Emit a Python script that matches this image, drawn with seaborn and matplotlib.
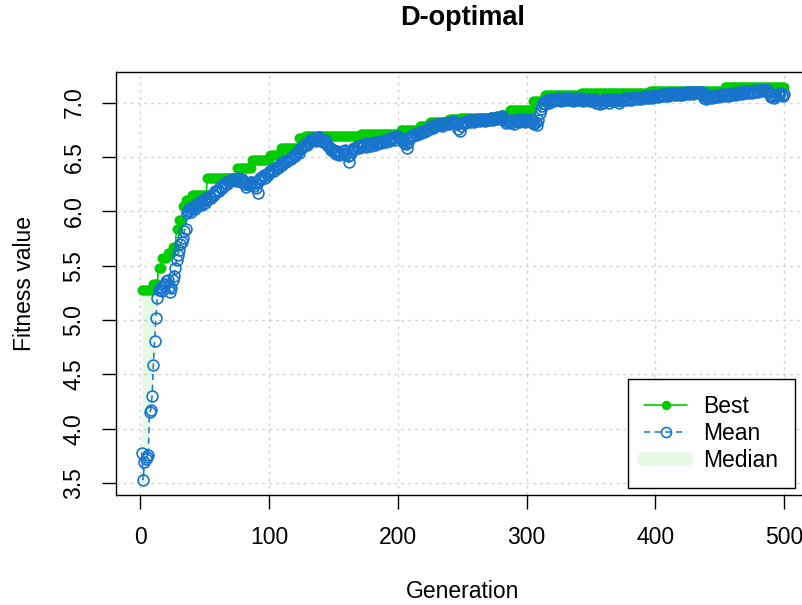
import numpy as np
import matplotlib
matplotlib.use("Agg")
import matplotlib.pyplot as plt
from matplotlib.lines import Line2D
import seaborn as sns

# GA run summary: 500 generations
generation = np.arange(1, 501)

# best fitness is a step curve: first generation of each level, and the level
best_start = [1, 10, 14, 17, 21, 25, 28, 30, 33, 35, 40, 52, 75, 87, 101, 109,
              123, 128, 171, 202, 217, 225, 240, 248, 272, 280, 287, 305, 314,
              342, 396, 454]
best_value = [5.28, 5.33, 5.48, 5.57, 5.62, 5.67, 5.84, 5.92, 6.05, 6.10, 6.15,
              6.31, 6.40, 6.47, 6.52, 6.58, 6.67, 6.69, 6.71, 6.75, 6.78, 6.82,
              6.85, 6.86, 6.87, 6.89, 6.93, 7.01, 7.07, 7.09, 7.11, 7.14]

mean_fitness = [
    3.78, 3.53, 3.69, 3.72, 3.74, 3.76, 4.15, 4.17, 4.30, 4.59,
    4.81, 5.02, 5.20, 5.28, 5.28, 5.30, 5.27, 5.31, 5.33, 5.36,
    5.37, 5.30, 5.26, 5.29, 5.37, 5.40, 5.48, 5.55, 5.60, 5.64,
    5.70, 5.72, 5.75, 5.82, 5.84, 5.98, 6.00, 6.02, 5.99, 6.03,
    6.04, 6.02, 6.06, 6.05, 6.08, 6.07, 6.09, 6.06, 6.10, 6.08,
    6.12, 6.10, 6.14, 6.13, 6.12, 6.16, 6.15, 6.19, 6.18, 6.20,
    6.19, 6.22, 6.21, 6.24, 6.23, 6.26, 6.25, 6.28, 6.27, 6.29,
    6.30, 6.29, 6.30, 6.28, 6.30, 6.31, 6.29, 6.27, 6.30, 6.28,
    6.25, 6.22, 6.26, 6.24, 6.27, 6.25, 6.27, 6.23, 6.26, 6.21,
    6.17, 6.28, 6.31, 6.30, 6.32, 6.33, 6.31, 6.34, 6.33, 6.36,
    6.37, 6.38, 6.39, 6.37, 6.40, 6.41, 6.40, 6.42, 6.44, 6.43,
    6.45, 6.46, 6.45, 6.47, 6.48, 6.49, 6.48, 6.50, 6.52, 6.51,
    6.53, 6.55, 6.54, 6.57, 6.58, 6.59, 6.60, 6.62, 6.61, 6.63,
    6.64, 6.66, 6.65, 6.67, 6.66, 6.65, 6.67, 6.66, 6.68, 6.66,
    6.65, 6.64, 6.66, 6.63, 6.62, 6.60, 6.58, 6.56, 6.57, 6.55,
    6.54, 6.53, 6.55, 6.52, 6.54, 6.53, 6.55, 6.54, 6.56, 6.53,
    6.51, 6.45, 6.52, 6.55, 6.57, 6.58, 6.57, 6.59, 6.60, 6.58,
    6.59, 6.61, 6.60, 6.62, 6.59, 6.61, 6.63, 6.62, 6.60, 6.62,
    6.63, 6.61, 6.64, 6.62, 6.63, 6.65, 6.63, 6.64, 6.66, 6.65,
    6.64, 6.66, 6.65, 6.67, 6.66, 6.67, 6.68, 6.66, 6.69, 6.68,
    6.68, 6.67, 6.66, 6.65, 6.63, 6.62, 6.58, 6.64, 6.67, 6.69,
    6.70, 6.69, 6.71, 6.70, 6.72, 6.71, 6.73, 6.72, 6.74, 6.73,
    6.75, 6.74, 6.76, 6.77, 6.76, 6.78, 6.77, 6.79, 6.78, 6.80,
    6.79, 6.80, 6.79, 6.78, 6.80, 6.81, 6.80, 6.81, 6.81, 6.80,
    6.82, 6.81, 6.83, 6.82, 6.81, 6.80, 6.76, 6.74, 6.78, 6.81,
    6.82, 6.81, 6.83, 6.82, 6.84, 6.82, 6.84, 6.83, 6.82, 6.84,
    6.83, 6.84, 6.85, 6.83, 6.84, 6.85, 6.84, 6.83, 6.85, 6.84,
    6.84, 6.86, 6.85, 6.84, 6.86, 6.85, 6.87, 6.86, 6.85, 6.87,
    6.88, 6.86, 6.83, 6.81, 6.83, 6.82, 6.84, 6.81, 6.83, 6.80,
    6.84, 6.83, 6.85, 6.82, 6.84, 6.83, 6.85, 6.84, 6.82, 6.84,
    6.83, 6.85, 6.82, 6.84, 6.81, 6.80, 6.82, 6.79, 6.84, 6.90,
    6.94, 6.97, 7.00, 6.99, 7.01, 7.02, 7.00, 7.03, 7.01, 7.02,
    7.01, 7.03, 7.02, 7.04, 7.02, 7.03, 7.01, 7.03, 7.02, 7.04,
    7.02, 7.03, 7.04, 7.02, 7.03, 7.01, 7.03, 7.04, 7.02, 7.03,
    7.02, 7.04, 7.03, 7.01, 7.03, 7.02, 7.03, 7.02, 7.01, 7.03,
    7.02, 7.01, 7.03, 7.00, 7.02, 7.01, 6.99, 7.01, 7.00, 7.02,
    7.01, 7.03, 7.02, 7.00, 7.02, 7.01, 7.03, 7.02, 7.01, 7.03,
    7.02, 7.00, 7.01, 7.03, 7.02, 7.04, 7.03, 7.02, 7.04, 7.03,
    7.02, 7.04, 7.03, 7.05, 7.04, 7.03, 7.05, 7.04, 7.03, 7.05,
    7.04, 7.06, 7.05, 7.04, 7.06, 7.05, 7.04, 7.06, 7.05, 7.07,
    7.06, 7.05, 7.07, 7.06, 7.08, 7.07, 7.06, 7.08, 7.07, 7.06,
    7.08, 7.07, 7.09, 7.08, 7.07, 7.09, 7.08, 7.07, 7.09, 7.08,
    7.07, 7.09, 7.08, 7.10, 7.09, 7.08, 7.10, 7.09, 7.08, 7.10,
    7.09, 7.10, 7.10, 7.09, 7.10, 7.10, 7.07, 7.04, 7.03, 7.05,
    7.04, 7.06, 7.05, 7.04, 7.06, 7.05, 7.07, 7.06, 7.05, 7.07,
    7.06, 7.08, 7.07, 7.06, 7.08, 7.07, 7.06, 7.08, 7.07, 7.09,
    7.08, 7.07, 7.09, 7.08, 7.10, 7.09, 7.08, 7.10, 7.09, 7.11,
    7.10, 7.09, 7.11, 7.10, 7.09, 7.11, 7.10, 7.12, 7.11, 7.10,
    7.12, 7.11, 7.12, 7.12, 7.11, 7.12, 7.12, 7.10, 7.07, 7.05,
    7.06, 7.04, 7.07, 7.06, 7.08, 7.07, 7.09, 7.07, 7.06, 7.08,
]

# median only separates from best in the first generations
median_head = [
    3.45, 3.42, 3.50, 3.55, 3.60, 3.65, 3.95, 4.15, 4.40, 4.70,
    4.95, 5.15, 5.30, 5.36, 5.40, 5.44, 5.48, 5.52, 5.55, 5.56,
    5.59, 5.60, 5.61, 5.61, 5.63, 5.65, 5.66, 5.76, 5.80, 5.85,
    5.88, 5.90, 5.98, 6.02, 6.05, 6.07, 6.08, 6.09, 6.10, 6.12,
]

x_ticks = [0, 100, 200, 300, 400, 500]
y_ticks = [3.5, 4.0, 4.5, 5.0, 5.5, 6.0, 6.5, 7.0]

best_len = np.diff(best_start + [len(generation) + 1])
best_fitness = np.repeat(best_value, best_len)
median_fitness = np.concatenate([median_head, best_fitness[len(median_head):]])

green = "#00CD00"
blue = "#1874CD"

sns.set_style("white")
plt.rcParams['font.family'] = ['Liberation Sans', 'DejaVu Sans']
plt.rcParams['text.color'] = 'black'

fig = plt.figure(figsize=(8.03, 6.05), dpi=100)
ax = fig.add_axes([0.1445, 0.1818, 0.864, 0.699])

ax.set_xticks(x_ticks)
ax.set_yticks(y_ticks)
ax.set_yticklabels([f"{v:.1f}" for v in y_ticks])
ax.grid(True, color='#D3D3D3', linestyle=(0, (2, 3)), linewidth=1)
ax.set_axisbelow(True)

sns.lineplot(x=generation, y=best_fitness, color=green, marker='o',
             markersize=7.2, markeredgewidth=0, linewidth=1.2,
             ax=ax, legend=False, errorbar=None)
sns.lineplot(x=generation, y=mean_fitness, color=blue, marker='o',
             markersize=7.8, markerfacecolor='none', markeredgecolor=blue,
             markeredgewidth=1.2, linestyle=(0, (4, 3)), linewidth=1.1,
             ax=ax, legend=False, errorbar=None)
ax.fill_between(generation, median_fitness, best_fitness, color=green,
                alpha=0.1, linewidth=0)

ax.set_xlim(-19, 520)
ax.set_ylim(3.39, 7.28)

for s in ax.spines.values():
    s.set_color('black')
    s.set_linewidth(1)
ax.tick_params(bottom=True, left=True, direction='out', length=10, width=1,
               color='black', labelsize=16.5, labelcolor='black', pad=12)
plt.setp(ax.get_yticklabels(), rotation=90, va='center')

ax.set_xlabel("Generation", fontsize=16.5, va='center', color='black')
ax.set_ylabel("Fitness value", fontsize=16.5, va='center', color='black')
ax.xaxis.set_label_coords(0.5, -0.229)
ax.yaxis.set_label_coords(-0.1326, 0.5)

fig.text(0.5766, 0.970, "D-optimal", fontsize=19.5, fontweight='bold',
         ha='center', va='center')

handles = [
    Line2D([0], [0], color=green, marker='o', markersize=6.8,
           markeredgewidth=0, linewidth=1.2),
    Line2D([0], [0], color=blue, marker='o', markersize=7.2,
           markerfacecolor='none', markeredgewidth=1.2,
           linestyle=(0, (4, 3)), linewidth=1.1),
    Line2D([0], [0], color=green, alpha=0.1, linewidth=10,
           solid_capstyle='round'),
]
leg = ax.legend(handles, ["Best", "Mean", "Median"], loc='lower right',
                bbox_to_anchor=(0.978, 0.0165), borderaxespad=0,
                fontsize=16.5, frameon=True, fancybox=False, framealpha=1,
                edgecolor='black', handlelength=1.9, handletextpad=0.7,
                labelspacing=0.17, borderpad=0.7)
leg.get_frame().set_linewidth(1)

fig.savefig("out.png", dpi=100)
